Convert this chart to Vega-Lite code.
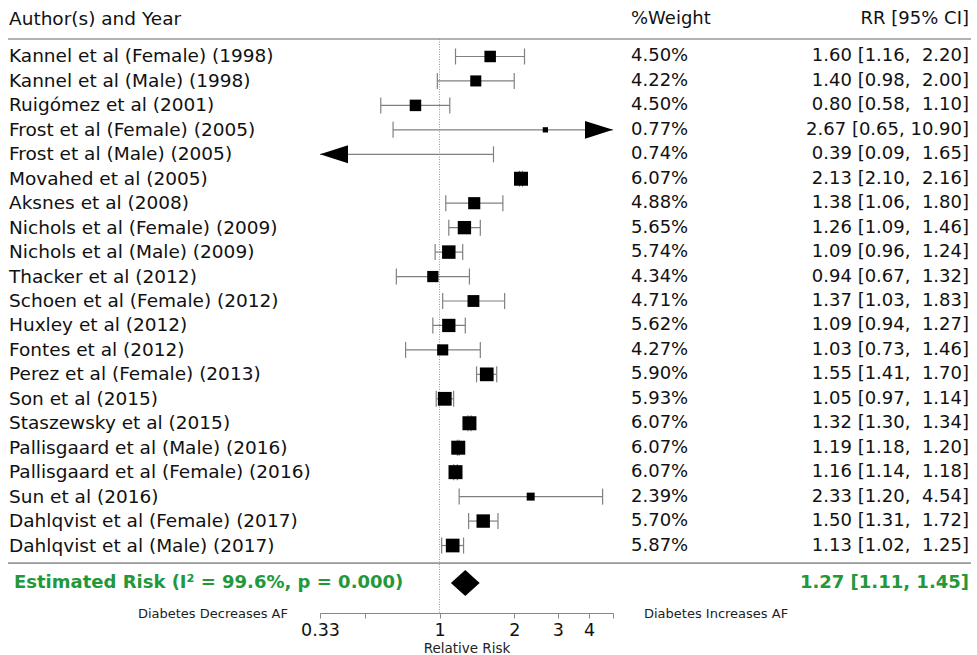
{
  "$schema": "https://vega.github.io/schema/vega-lite/v6.json",
  "background": "white",
  "padding": {"left": 7, "right": 7, "top": 0, "bottom": 0},
  "spacing": 0,
  "bounds": "flush",
  "config": {
    "view": {"stroke": null},
    "text": {"font": "DejaVu Sans", "fontSize": 18, "color": "#111", "baseline": "middle"},
    "axisX": {"labelFont": "DejaVu Sans", "labelFontSize": 17.5, "labelColor": "#111", "labelPadding": 3, "labelFlush": false, "labelOverlap": false, "labelBound": false,
              "titleFont": "DejaVu Sans", "titleFontSize": 13.5, "titleFontWeight": "normal", "titleColor": "#222", "titlePadding": 3,
              "domainColor": "#888", "tickColor": "#888", "tickSize": 5, "grid": false}
  },
  "datasets": {
    "header": [
      {"col": "study", "label": "Author(s) and Year"},
      {"col": "weight", "label": "%Weight"},
      {"col": "rr", "label": "RR [95% CI]"}
    ],
    "notes": [
      {"side": "left", "label": "Diabetes Decreases AF"},
      {"side": "right", "label": "Diabetes Increases AF"}
    ],
    "summary": [
      {"label": "Estimated Risk (I² = 99.6%, p = 0.000)", "rr": 1.27, "lo": 1.11, "hi": 1.45, "rrlabel": "1.27 [1.11, 1.45]"}
    ],
    "studies": [
      {"row": 1, "study": "Kannel et al (Female) (1998)", "weight": 4.50, "wlabel": "4.50%", "rr": 1.60, "lo": 1.16, "hi": 2.20, "rrlabel": "1.60 [1.16, \u00a02.20]"},
      {"row": 2, "study": "Kannel et al (Male) (1998)", "weight": 4.22, "wlabel": "4.22%", "rr": 1.40, "lo": 0.98, "hi": 2.00, "rrlabel": "1.40 [0.98, \u00a02.00]"},
      {"row": 3, "study": "Ruigómez et al (2001)", "weight": 4.50, "wlabel": "4.50%", "rr": 0.80, "lo": 0.58, "hi": 1.10, "rrlabel": "0.80 [0.58, \u00a01.10]"},
      {"row": 4, "study": "Frost et al (Female) (2005)", "weight": 0.77, "wlabel": "0.77%", "rr": 2.67, "lo": 0.65, "hi": 10.90, "rrlabel": "2.67 [0.65, 10.90]"},
      {"row": 5, "study": "Frost et al (Male) (2005)", "weight": 0.74, "wlabel": "0.74%", "rr": 0.39, "lo": 0.09, "hi": 1.65, "rrlabel": "0.39 [0.09, \u00a01.65]"},
      {"row": 6, "study": "Movahed et al (2005)", "weight": 6.07, "wlabel": "6.07%", "rr": 2.13, "lo": 2.10, "hi": 2.16, "rrlabel": "2.13 [2.10, \u00a02.16]"},
      {"row": 7, "study": "Aksnes et al (2008)", "weight": 4.88, "wlabel": "4.88%", "rr": 1.38, "lo": 1.06, "hi": 1.80, "rrlabel": "1.38 [1.06, \u00a01.80]"},
      {"row": 8, "study": "Nichols et al (Female) (2009)", "weight": 5.65, "wlabel": "5.65%", "rr": 1.26, "lo": 1.09, "hi": 1.46, "rrlabel": "1.26 [1.09, \u00a01.46]"},
      {"row": 9, "study": "Nichols et al (Male) (2009)", "weight": 5.74, "wlabel": "5.74%", "rr": 1.09, "lo": 0.96, "hi": 1.24, "rrlabel": "1.09 [0.96, \u00a01.24]"},
      {"row": 10, "study": "Thacker et al (2012)", "weight": 4.34, "wlabel": "4.34%", "rr": 0.94, "lo": 0.67, "hi": 1.32, "rrlabel": "0.94 [0.67, \u00a01.32]"},
      {"row": 11, "study": "Schoen et al (Female) (2012)", "weight": 4.71, "wlabel": "4.71%", "rr": 1.37, "lo": 1.03, "hi": 1.83, "rrlabel": "1.37 [1.03, \u00a01.83]"},
      {"row": 12, "study": "Huxley et al (2012)", "weight": 5.62, "wlabel": "5.62%", "rr": 1.09, "lo": 0.94, "hi": 1.27, "rrlabel": "1.09 [0.94, \u00a01.27]"},
      {"row": 13, "study": "Fontes et al (2012)", "weight": 4.27, "wlabel": "4.27%", "rr": 1.03, "lo": 0.73, "hi": 1.46, "rrlabel": "1.03 [0.73, \u00a01.46]"},
      {"row": 14, "study": "Perez et al (Female) (2013)", "weight": 5.90, "wlabel": "5.90%", "rr": 1.55, "lo": 1.41, "hi": 1.70, "rrlabel": "1.55 [1.41, \u00a01.70]"},
      {"row": 15, "study": "Son et al (2015)", "weight": 5.93, "wlabel": "5.93%", "rr": 1.05, "lo": 0.97, "hi": 1.14, "rrlabel": "1.05 [0.97, \u00a01.14]"},
      {"row": 16, "study": "Staszewsky et al (2015)", "weight": 6.07, "wlabel": "6.07%", "rr": 1.32, "lo": 1.30, "hi": 1.34, "rrlabel": "1.32 [1.30, \u00a01.34]"},
      {"row": 17, "study": "Pallisgaard et al (Male) (2016)", "weight": 6.07, "wlabel": "6.07%", "rr": 1.19, "lo": 1.18, "hi": 1.20, "rrlabel": "1.19 [1.18, \u00a01.20]"},
      {"row": 18, "study": "Pallisgaard et al (Female) (2016)", "weight": 6.07, "wlabel": "6.07%", "rr": 1.16, "lo": 1.14, "hi": 1.18, "rrlabel": "1.16 [1.14, \u00a01.18]"},
      {"row": 19, "study": "Sun et al (2016)", "weight": 2.39, "wlabel": "2.39%", "rr": 2.33, "lo": 1.20, "hi": 4.54, "rrlabel": "2.33 [1.20, \u00a04.54]"},
      {"row": 20, "study": "Dahlqvist et al (Female) (2017)", "weight": 5.70, "wlabel": "5.70%", "rr": 1.50, "lo": 1.31, "hi": 1.72, "rrlabel": "1.50 [1.31, \u00a01.72]"},
      {"row": 21, "study": "Dahlqvist et al (Male) (2017)", "weight": 5.87, "wlabel": "5.87%", "rr": 1.13, "lo": 1.02, "hi": 1.25, "rrlabel": "1.13 [1.02, \u00a01.25]"}
    ]
  },
  "hconcat": [
    {
      "width": 312,
      "height": 613,
      "layer": [
        {"data": {"name": "summary"}, "mark": {"type": "rule", "color": "#999", "strokeWidth": 1.6},
         "encoding": {"y": {"datum": 0.285, "type": "quantitative", "scale": {"domain": [-1.31, 23.76], "reverse": true, "nice": false, "zero": false}, "axis": null}}},
        {"data": {"name": "summary"}, "mark": {"type": "rule", "color": "#999", "strokeWidth": 1.6},
         "encoding": {"y": {"datum": 21.72, "type": "quantitative", "axis": null}}},
        {"data": {"name": "header"}, "transform": [{"filter": "datum.col == 'study'"}],
         "mark": {"type": "text", "align": "left", "dx": 1, "fontSize": 18.5},
         "encoding": {
           "x": {"datum": "left", "type": "nominal", "scale": {"type": "point", "domain": ["left", "right"], "padding": 0}, "axis": null},
           "y": {"datum": -0.55, "type": "quantitative", "axis": null},
           "text": {"field": "label"}}},
        {"data": {"name": "studies"},
         "mark": {"type": "text", "align": "left", "dx": 1, "fontSize": 18.5},
         "encoding": {
           "x": {"datum": "left", "type": "nominal", "axis": null},
           "y": {"field": "row", "type": "quantitative", "axis": null},
           "text": {"field": "study"}}},
        {"data": {"name": "summary"},
         "mark": {"type": "text", "align": "left", "dx": 6, "fontWeight": "bold", "color": "#23983a"},
         "encoding": {
           "x": {"datum": "left", "type": "nominal", "axis": null},
           "y": {"datum": 22.53, "type": "quantitative", "axis": null},
           "text": {"field": "label"}}},
        {"data": {"name": "notes"}, "transform": [{"filter": "datum.side == 'left'"}],
         "mark": {"type": "text", "align": "right", "dx": -32, "fontSize": 13, "color": "#222"},
         "encoding": {
           "x": {"datum": "right", "type": "nominal", "axis": null},
           "y": {"datum": 23.8, "type": "quantitative", "axis": null},
           "text": {"field": "label"}}}
      ]
    },
    {
      "width": 293,
      "height": 613,
      "layer": [
        {"data": {"name": "summary"}, "mark": {"type": "rule", "color": "#999", "strokeWidth": 1.6},
         "encoding": {"y": {"datum": 0.285, "type": "quantitative", "scale": {"domain": [-1.31, 23.76], "reverse": true, "nice": false, "zero": false}, "axis": null}}},
        {"data": {"name": "summary"}, "mark": {"type": "rule", "color": "#999", "strokeWidth": 1.6},
         "encoding": {"y": {"datum": 21.72, "type": "quantitative", "axis": null}}},
        {"data": {"name": "summary"}, "mark": {"type": "rule", "color": "#999", "strokeWidth": 1, "strokeDash": [1, 1.5]},
         "encoding": {
           "x": {"datum": 1, "type": "quantitative",
                 "scale": {"type": "log", "domain": [0.33, 5], "clamp": true, "nice": false},
                 "axis": {"values": [0.33, 0.5, 1, 2, 3, 4, 5], "format": "~g", "labelExpr": "datum.value == 0.5 || datum.value == 5 ? '' : datum.label", "title": "Relative Risk"}},
           "y": {"datum": 0.285, "type": "quantitative", "axis": null},
           "y2": {"datum": 23.76}}},
        {"data": {"name": "studies"}, "mark": {"type": "rule", "color": "#808080", "strokeWidth": 1.2},
         "encoding": {
           "x": {"field": "lo", "type": "quantitative",
                 "axis": {"values": [0.33, 0.5, 1, 2, 3, 4, 5], "format": "~g", "labelExpr": "datum.value == 0.5 || datum.value == 5 ? '' : datum.label", "title": "Relative Risk"}},
           "x2": {"field": "hi"},
           "y": {"field": "row", "type": "quantitative", "axis": null}}},
        {"data": {"name": "studies"}, "transform": [{"filter": "datum.lo >= 0.33"}],
         "mark": {"type": "tick", "orient": "vertical", "size": 16, "thickness": 1.2, "color": "#808080", "opacity": 1},
         "encoding": {
           "x": {"field": "lo", "type": "quantitative",
                 "axis": {"values": [0.33, 0.5, 1, 2, 3, 4, 5], "format": "~g", "labelExpr": "datum.value == 0.5 || datum.value == 5 ? '' : datum.label", "title": "Relative Risk"}},
           "y": {"field": "row", "type": "quantitative", "axis": null}}},
        {"data": {"name": "studies"}, "transform": [{"filter": "datum.hi <= 5"}],
         "mark": {"type": "tick", "orient": "vertical", "size": 16, "thickness": 1.2, "color": "#808080", "opacity": 1},
         "encoding": {
           "x": {"field": "hi", "type": "quantitative",
                 "axis": {"values": [0.33, 0.5, 1, 2, 3, 4, 5], "format": "~g", "labelExpr": "datum.value == 0.5 || datum.value == 5 ? '' : datum.label", "title": "Relative Risk"}},
           "y": {"field": "row", "type": "quantitative", "axis": null}}},
        {"data": {"name": "studies"},
         "mark": {"type": "point", "shape": "square", "filled": true, "color": "#000", "opacity": 1, "strokeWidth": 0},
         "encoding": {
           "x": {"field": "rr", "type": "quantitative",
                 "axis": {"values": [0.33, 0.5, 1, 2, 3, 4, 5], "format": "~g", "labelExpr": "datum.value == 0.5 || datum.value == 5 ? '' : datum.label", "title": "Relative Risk"}},
           "y": {"field": "row", "type": "quantitative", "axis": null},
           "size": {"field": "weight", "type": "quantitative", "legend": null,
                    "scale": {"type": "pow", "exponent": 1.5, "domain": [0.77, 6.07], "range": [28, 196], "zero": false}}}},
        {"data": {"name": "studies"}, "transform": [{"filter": "datum.hi > 5"}],
         "mark": {"type": "point", "shape": "M0,0L-1,-0.32L-1,0.32Z", "filled": true, "color": "#000", "opacity": 1, "size": 3136, "strokeWidth": 0},
         "encoding": {
           "x": {"field": "hi", "type": "quantitative",
                 "axis": {"values": [0.33, 0.5, 1, 2, 3, 4, 5], "format": "~g", "labelExpr": "datum.value == 0.5 || datum.value == 5 ? '' : datum.label", "title": "Relative Risk"}},
           "y": {"field": "row", "type": "quantitative", "axis": null}}},
        {"data": {"name": "studies"}, "transform": [{"filter": "datum.lo < 0.33"}],
         "mark": {"type": "point", "shape": "M0,0L1,-0.32L1,0.32Z", "filled": true, "color": "#000", "opacity": 1, "size": 3136, "strokeWidth": 0},
         "encoding": {
           "x": {"field": "lo", "type": "quantitative",
                 "axis": {"values": [0.33, 0.5, 1, 2, 3, 4, 5], "format": "~g", "labelExpr": "datum.value == 0.5 || datum.value == 5 ? '' : datum.label", "title": "Relative Risk"}},
           "y": {"field": "row", "type": "quantitative", "axis": null}}},
        {"data": {"name": "summary"},
         "mark": {"type": "point", "shape": "M-1,0L0,-0.9L1,0L0,0.9Z", "filled": true, "color": "#000", "opacity": 1, "size": 829, "strokeWidth": 0},
         "encoding": {
           "x": {"field": "rr", "type": "quantitative",
                 "axis": {"values": [0.33, 0.5, 1, 2, 3, 4, 5], "format": "~g", "labelExpr": "datum.value == 0.5 || datum.value == 5 ? '' : datum.label", "title": "Relative Risk"}},
           "y": {"datum": 22.53, "type": "quantitative", "axis": null}}}
      ]
    },
    {
      "width": 358,
      "height": 613,
      "layer": [
        {"data": {"name": "summary"}, "mark": {"type": "rule", "color": "#999", "strokeWidth": 1.6},
         "encoding": {"y": {"datum": 0.285, "type": "quantitative", "scale": {"domain": [-1.31, 23.76], "reverse": true, "nice": false, "zero": false}, "axis": null}}},
        {"data": {"name": "summary"}, "mark": {"type": "rule", "color": "#999", "strokeWidth": 1.6},
         "encoding": {"y": {"datum": 21.72, "type": "quantitative", "axis": null}}},
        {"data": {"name": "header"}, "transform": [{"filter": "datum.col == 'weight'"}],
         "mark": {"type": "text", "align": "left", "dx": 18},
         "encoding": {
           "x": {"datum": "left", "type": "nominal", "scale": {"type": "point", "domain": ["left", "right"], "padding": 0}, "axis": null},
           "y": {"datum": -0.55, "type": "quantitative", "axis": null},
           "text": {"field": "label"}}},
        {"data": {"name": "header"}, "transform": [{"filter": "datum.col == 'rr'"}],
         "mark": {"type": "text", "align": "right", "dx": -2},
         "encoding": {
           "x": {"datum": "right", "type": "nominal", "axis": null},
           "y": {"datum": -0.55, "type": "quantitative", "axis": null},
           "text": {"field": "label"}}},
        {"data": {"name": "studies"},
         "mark": {"type": "text", "align": "left", "dx": 18},
         "encoding": {
           "x": {"datum": "left", "type": "nominal", "axis": null},
           "y": {"field": "row", "type": "quantitative", "axis": null},
           "text": {"field": "wlabel"}}},
        {"data": {"name": "studies"},
         "mark": {"type": "text", "align": "right", "dx": -2},
         "encoding": {
           "x": {"datum": "right", "type": "nominal", "axis": null},
           "y": {"field": "row", "type": "quantitative", "axis": null},
           "text": {"field": "rrlabel"}}},
        {"data": {"name": "summary"},
         "mark": {"type": "text", "align": "right", "dx": -2, "fontWeight": "bold", "color": "#23983a"},
         "encoding": {
           "x": {"datum": "right", "type": "nominal", "axis": null},
           "y": {"datum": 22.53, "type": "quantitative", "axis": null},
           "text": {"field": "rrlabel"}}},
        {"data": {"name": "notes"}, "transform": [{"filter": "datum.side == 'right'"}],
         "mark": {"type": "text", "align": "left", "dx": 31, "fontSize": 13, "color": "#222"},
         "encoding": {
           "x": {"datum": "left", "type": "nominal", "axis": null},
           "y": {"datum": 23.8, "type": "quantitative", "axis": null},
           "text": {"field": "label"}}}
      ]
    }
  ]
}
